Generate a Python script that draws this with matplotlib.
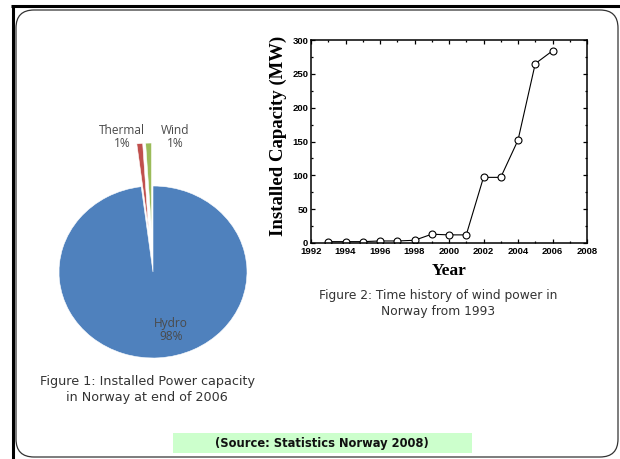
import matplotlib
matplotlib.use("Agg")
import matplotlib.pyplot as plt
from matplotlib.patches import FancyBboxPatch, Rectangle
from matplotlib.ticker import MultipleLocator

# installed power capacity in Norway, end of 2006 (%)
sources = ["Hydro", "Thermal", "Wind"]
shares = [98, 1, 1]
share_colors = ["#4f81bd", "#c0504d", "#9bbb59"]

# installed wind power capacity (MW)
years = [1993, 1994, 1995, 1996, 1997, 1998, 1999, 2000, 2001, 2002, 2003, 2004, 2005, 2006]
capacity = [2, 2, 2, 3, 3, 4, 13, 12, 12, 97, 97, 152, 265, 284]

W, H = 620, 459
fig = plt.figure(figsize=(W / 100, H / 100), dpi=100)

# background layer in pixel units for the frame and captions
bg = fig.add_axes([0, 0, 1, 1], zorder=0)
bg.set_xlim(0, W)
bg.set_ylim(H, 0)
bg.axis("off")
bg.plot([11, W], [6, 6], color="black", lw=2.2, solid_capstyle="butt")
bg.plot([13, 13], [5, H], color="black", lw=2.2, solid_capstyle="butt")
bg.add_patch(FancyBboxPatch((16, 10), 602, 447, boxstyle="round,pad=0,rounding_size=18",
                            fc="none", ec="#333333", lw=0.9))
bg.add_patch(Rectangle((173, 433), 299, 20, fc="#ccffcc", ec="none"))
bg.text(322, 443, "(Source: Statistics Norway 2008)", ha="center", va="center",
        fontsize=8.3, fontweight="bold", family="DejaVu Sans", color="#111111")
bg.text(147, 390, "Figure 1: Installed Power capacity\nin Norway at end of 2006", ha="center",
        va="center", fontsize=9.2, family="DejaVu Sans", color="#333333", linespacing=1.3)
bg.text(438, 304, "Figure 2: Time history of wind power in\nNorway from 1993", ha="center",
        va="center", fontsize=8.8, family="DejaVu Sans", color="#333333", linespacing=1.3)

# pie chart, slightly wider than tall
cx, cy, rx, ry = 153, 272, 94, 86
xl, yl = 1.6, 1.8
pie_ax = fig.add_axes([(cx - rx * xl) / W, 1 - (cy + ry * yl) / H, 2 * rx * xl / W, 2 * ry * yl / H], zorder=1)
pie_ax.pie(shares, colors=share_colors, startangle=90, counterclock=False,
           explode=[0, 0.5, 0.5], wedgeprops=dict(edgecolor="white", linewidth=0.4))
pie_ax.set_aspect("auto")
pie_ax.set_xlim(-xl, xl)
pie_ax.set_ylim(-yl, yl)
label_pos = {"Hydro": (0.19, -0.68), "Thermal": (-0.33, 1.57), "Wind": (0.24, 1.57)}
for name, val in zip(sources, shares):
    x, y = label_pos[name]
    pie_ax.text(x, y, f"{name}\n{val}%", ha="center", va="center", fontsize=8.6,
                family="Open Sans", color="#4a4a4a", linespacing=1.0)

# wind capacity history
ax = fig.add_axes([311 / W, 1 - 243 / H, 276 / W, 203 / H], zorder=2)
ax.plot(years, capacity, color="black", lw=0.8, marker="o", ms=5, mfc="white",
        mec="black", mew=0.8)
ax.set_xlim(1992, 2008)
ax.set_ylim(0, 300)
ax.xaxis.set_major_locator(MultipleLocator(2))
ax.xaxis.set_minor_locator(MultipleLocator(1))
ax.yaxis.set_major_locator(MultipleLocator(50))
ax.yaxis.set_minor_locator(MultipleLocator(25))
ax.tick_params(which="both", direction="in", top=True, right=True, width=0.9)
ax.tick_params(which="major", length=3.2, pad=2, labelsize=6.8)
ax.tick_params(axis="x", which="major", pad=3)
ax.tick_params(which="minor", length=1.7)
for lab in ax.get_xticklabels() + ax.get_yticklabels():
    lab.set_fontweight("bold")
    lab.set_family("Liberation Sans")
for sp in ax.spines.values():
    sp.set_linewidth(1.1)
ax.set_xlabel("Year", fontsize=12.5, fontweight="bold", family="Liberation Serif", labelpad=5)
ax.set_ylabel("Installed Capacity (MW)", fontsize=13.5, fontweight="bold",
              family="Liberation Serif")
ax.yaxis.set_label_coords(-0.087, 0.53)

fig.savefig("out.png", dpi=100, facecolor="white")
